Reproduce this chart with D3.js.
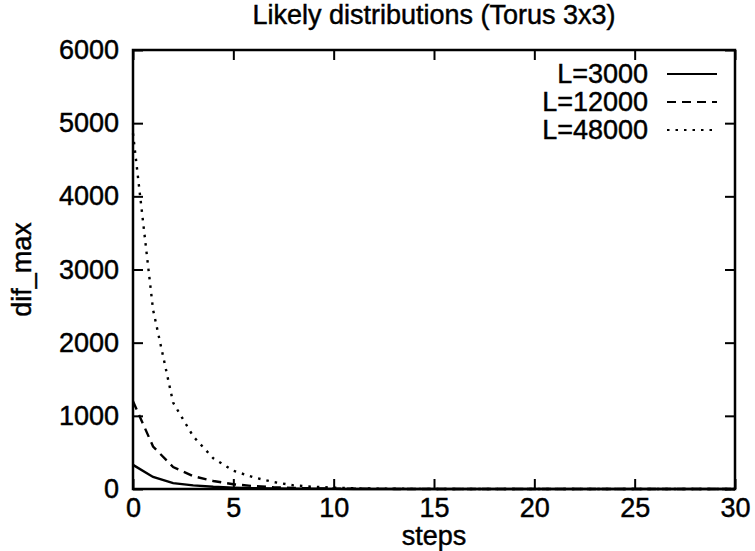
<!DOCTYPE html>
<html>
<head>
<meta charset="utf-8">
<script src="https://cdn.jsdelivr.net/npm/d3@7/dist/d3.min.js"></script>
<style>
  html, body { margin: 0; padding: 0; background: #fff; }
  svg text { font-family: "Liberation Sans", Arial, sans-serif; fill: #000; stroke: #000; stroke-width: 0.45px; }
</style>
</head>
<body>
<div class="container"></div>
<script>
"use strict";

const width = 755;
const height = 551;

// data
const steps = [0, 1, 2, 3, 4, 5, 6, 7, 8, 9, 10, 11, 12, 13, 14, 15,
  16, 17, 18, 19, 20, 21, 22, 23, 24, 25, 26, 27, 28, 29, 30];
const L3000 = [330, 165, 80, 50, 30, 18, 11, 7, 4, 3, 2, 1, 1, 1, 0, 0,
  0, 0, 0, 0, 0, 0, 0, 0, 0, 0, 0, 0, 0, 0, 0];
const L12000 = [1200, 580, 300, 175, 110, 65, 40, 24, 15, 9, 5, 3, 2, 1, 1, 0,
  0, 0, 0, 0, 0, 0, 0, 0, 0, 0, 0, 0, 0, 0, 0];
const L48000 = [4860, 2450, 1180, 720, 420, 250, 160, 95, 50, 30, 18, 10, 6, 3, 2, 1,
  1, 0, 0, 0, 0, 0, 0, 0, 0, 0, 0, 0, 0, 0, 0];
const seriesNames = ["L=3000", "L=12000", "L=48000"];
const xTicks = [0, 5, 10, 15, 20, 25, 30];
const yTicks = [0, 1000, 2000, 3000, 4000, 5000, 6000];

const margin = { top: 50, right: 20, bottom: 62, left: 133 };
const innerW = width - margin.left - margin.right;
const innerH = height - margin.top - margin.bottom;

let svg = d3.select(".container")
  .append("svg")
  .attr("width", width)
  .attr("height", height);

let g = svg.append("g")
  .attr("transform", `translate(${margin.left},${margin.top})`);

const x = d3.scaleLinear().domain([0, 30]).range([0, innerW]);
const y = d3.scaleLinear().domain([0, 6000]).range([innerH, 0]);

const fontSize = 27;
const tick = 10;

// bottom + top axes (ticks point inward)
g.append("g")
  .attr("transform", `translate(0,${innerH})`)
  .call(d3.axisBottom(x).tickValues(xTicks).tickFormat(d3.format("d"))
    .tickSizeInner(-tick).tickSizeOuter(0).tickPadding(9))
  .call(a => a.select(".domain").remove());
g.append("g")
  .call(d3.axisTop(x).tickValues(xTicks).tickSizeInner(-tick).tickSizeOuter(0).tickFormat(""))
  .call(a => a.select(".domain").remove());

// left + right axes
g.append("g")
  .call(d3.axisLeft(y).tickValues(yTicks).tickFormat(d3.format("d"))
    .tickSizeInner(-tick).tickSizeOuter(0).tickPadding(14))
  .call(a => a.select(".domain").remove());
g.append("g")
  .attr("transform", `translate(${innerW},0)`)
  .call(d3.axisRight(y).tickValues(yTicks).tickSizeInner(-tick).tickSizeOuter(0).tickFormat(""))
  .call(a => a.select(".domain").remove());

g.selectAll(".tick line").attr("stroke", "#000").attr("stroke-width", 2);
g.selectAll(".tick text")
  .attr("font-size", fontSize)
  .attr("font-family", "Liberation Sans, Arial, sans-serif");

// frame
g.append("rect")
  .attr("width", innerW)
  .attr("height", innerH)
  .attr("fill", "none")
  .attr("stroke", "#000")
  .attr("stroke-width", 2.5);

// curves
const styles = [
  { data: L3000, dash: null },
  { data: L12000, dash: "9,6" },
  { data: L48000, dash: "2.5,6" }
];

const line = d3.line()
  .x((d, i) => x(steps[i]))
  .y(d => y(d));

styles.forEach(s => {
  g.append("path")
    .datum(s.data)
    .attr("d", line)
    .attr("fill", "none")
    .attr("stroke", "#000")
    .attr("stroke-width", 2.4)
    .attr("stroke-dasharray", s.dash);
});

// legend
const legendX = 648 - margin.left;
styles.forEach((s, i) => {
  const ly = 74 - margin.top + i * 28;
  g.append("text")
    .attr("x", legendX)
    .attr("y", ly)
    .attr("dy", "0.35em")
    .attr("text-anchor", "end")
    .attr("font-size", fontSize)
    .text(seriesNames[i]);
  g.append("line")
    .attr("x1", 667 - margin.left)
    .attr("x2", 717 - margin.left)
    .attr("y1", ly)
    .attr("y2", ly)
    .attr("stroke", "#000")
    .attr("stroke-width", 2)
    .attr("stroke-dasharray", s.dash);
});

// title + axis titles
svg.append("text")
  .attr("x", margin.left + innerW / 2)
  .attr("y", 24)
  .attr("text-anchor", "middle")
  .attr("font-size", fontSize)
  .text("Likely distributions (Torus 3x3)");

svg.append("text")
  .attr("x", margin.left + innerW / 2)
  .attr("y", 545)
  .attr("text-anchor", "middle")
  .attr("font-size", fontSize)
  .text("steps");

svg.append("text")
  .attr("transform", `translate(31,${margin.top + innerH / 2}) rotate(-90)`)
  .attr("text-anchor", "middle")
  .attr("font-size", fontSize)
  .text("dif_max");
</script>
</body>
</html>
